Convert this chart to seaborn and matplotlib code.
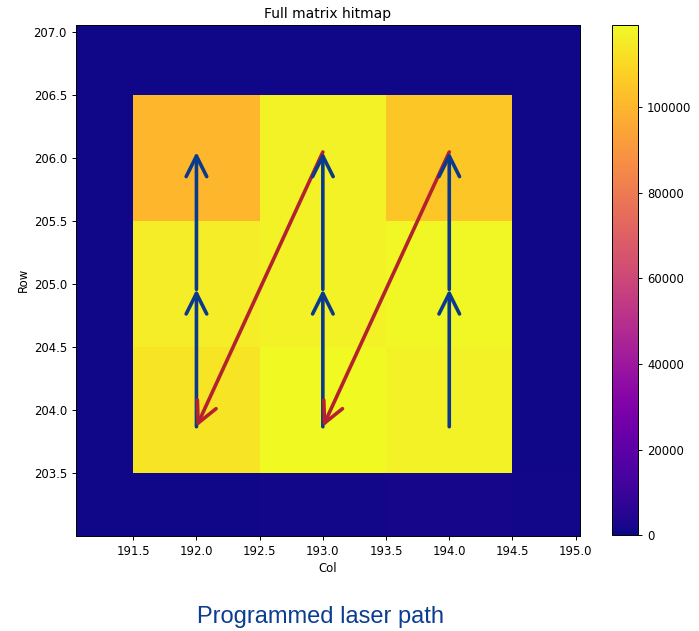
import numpy as np
import pandas as pd
import matplotlib
matplotlib.use("Agg")
import matplotlib.pyplot as plt
import seaborn as sns

# Pixel grid: column / row centre of each cell and its hit count
cols = [191, 192, 193, 194, 195]
rows = [207, 206, 205, 204, 203]
hits = [
    [600,    500,    700,    650,    550],     # row 207
    [500, 100500, 117200, 104800,    600],     # row 206
    [550, 115800, 117300, 118600,    700],     # row 205
    [600, 113500, 119200, 117000,    800],     # row 204
    [700,   900,   1200,   1400,   1000],     # row 203
]

# Laser scan path: vertical strokes (blue) and fly-back jumps (red)
stroke_cols = [192, 193, 194]
stroke_rows = [203.87, 204.96, 206.05]
jumps = [((193, 206.05), (192, 203.87)), ((194, 206.05), (193, 203.87))]

records = []
for r, row_vals in zip(rows, hits):
    for c, v in zip(cols, row_vals):
        records.append({"Col": c, "Row": r, "hits": v})
df = pd.DataFrame(records)

plt.rcParams.update({
    "font.size": 8.4,
    "axes.titlesize": 10,
    "axes.linewidth": 0.7,
    "xtick.major.width": 0.7,
    "ytick.major.width": 0.7,
    "xtick.major.size": 3,
    "ytick.major.size": 3,
})

fig = plt.figure(figsize=(6.99, 6.31), dpi=100)
ax = fig.add_axes([0.1087, 0.151, 0.7210, 0.8094])
cax = fig.add_axes([0.8755, 0.152, 0.0372, 0.808])

sns.histplot(
    data=df, x="Col", y="Row", weights="hits",
    bins=5, binrange=((190.5, 195.5), (202.5, 207.5)),
    cmap="plasma", thresh=None, vmin=0,
    cbar=True, cbar_ax=cax, ax=ax,
)

ax.set_xlim(191.047, 195.034)
ax.set_ylim(203.005, 207.058)
ax.set_xticks([191.5, 192.0, 192.5, 193.0, 193.5, 194.0, 194.5, 195.0])
ax.set_yticks([203.5, 204.0, 204.5, 205.0, 205.5, 206.0, 206.5, 207.0])
ax.set_title("Full matrix hitmap", pad=5)
ax.set_xlabel("Col", labelpad=3)
ax.set_ylabel("Row", labelpad=3)
cax.set_yticks([0, 20000, 40000, 60000, 80000, 100000])

blue = "#0b3a8c"
red = "#b3222e"
arrow_kw = dict(arrowstyle="->", lw=2.6, mutation_scale=37, shrinkA=0, shrinkB=0)


def stroke(c):
    for y0, y1 in zip(stroke_rows[:-1], stroke_rows[1:]):
        ax.annotate("", xy=(c, y1), xytext=(c, y0),
                    arrowprops=dict(color=blue, **arrow_kw))


def jump(start, end):
    ax.annotate("", xy=end, xytext=start,
                arrowprops=dict(color=red, **arrow_kw))


stroke(stroke_cols[0])
jump(*jumps[0])
stroke(stroke_cols[1])
jump(*jumps[1])
stroke(stroke_cols[2])

fig.text(0.459, 0.022, "Programmed laser path", ha="center", va="center",
         fontsize=17, color="#0b3d91", family="Liberation Sans")

fig.savefig("out.png", dpi=100)
